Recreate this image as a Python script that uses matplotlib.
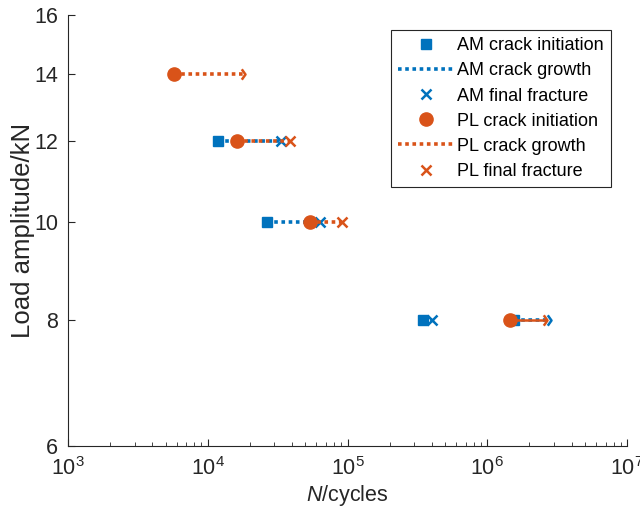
import matplotlib
matplotlib.use("Agg")
import matplotlib.pyplot as plt
from matplotlib.path import Path
from matplotlib.ticker import FixedLocator, NullLocator, FixedFormatter, LogLocator

plt.rcParams['font.family'] = ['Liberation Sans', 'DejaVu Sans']
plt.rcParams['mathtext.fontset'] = 'custom'
plt.rcParams['mathtext.rm'] = 'Liberation Sans'
plt.rcParams['mathtext.it'] = 'Liberation Sans:italic'

BLUE = '#0072BD'
ORANGE = '#D95319'

# AM specimens
am_load = [12, 10, 8, 8]
am_init = [1.18e4, 2.65e4, 3.47e5, 1.55e6]
am_final = [3.34e4, 6.35e4, 4.03e5, 2.86e6]
am_runout = [False, False, False, True]

# PL specimens
pl_load = [14, 12, 10, 8]
pl_init = [5.7e3, 1.62e4, 5.4e4, 1.46e6]
pl_final = [1.85e4, 3.88e4, 9.1e4, 2.68e6]
pl_runout = [True, False, False, True]
pl_solid = [False, False, False, True]

y_ticks = [6, 8, 10, 12, 14, 16]
x_ticks = [1e3, 1e4, 1e5, 1e6, 1e7]
x_ticklabels = [r'$10^{3}$', r'$10^{4}$', r'$10^{5}$', r'$10^{6}$', r'$10^{7}$']

chevron = Path([(-1, 1.4), (0, 0), (-1, -1.4)], [Path.MOVETO, Path.LINETO, Path.LINETO])

fig = plt.figure(figsize=(6.4, 5.16), dpi=100)
ax = fig.add_axes([0.106, 0.1357, 0.874, 0.8353])

lw = 2.6

def draw(loads, inits, finals, runouts, color, marker, ms, solid=None, zo=2):
    for i, (y, a, b, r) in enumerate(zip(loads, inits, finals, runouts)):
        is_solid = solid[i] if solid else False
        if is_solid:
            ax.plot([a, b], [y, y], color=color, lw=1.8, solid_capstyle='butt', zorder=zo)
        else:
            ax.plot([a, b], [y, y], color=color, lw=lw, dashes=(1, 1),
                    dash_capstyle='butt', zorder=zo)
        ax.plot([a], [y], marker=marker, color=color, ms=ms, ls='none', zorder=zo + 1)
        if r:
            ax.plot([b], [y], marker=chevron, color=color, ms=7.5, mew=1.8,
                    fillstyle='none', ls='none', zorder=zo + 1)
        else:
            ax.plot([b], [y], marker='x', color=color, ms=7.5, mew=1.8, ls='none', zorder=zo + 1)

draw(am_load, am_init, am_final, am_runout, BLUE, 's', 7.5, zo=2)
draw(pl_load, pl_init, pl_final, pl_runout, ORANGE, 'o', 9.5, solid=pl_solid, zo=4)

# legend proxies
h = []
h.append(ax.plot([], [], 's', color=BLUE, ms=7.5, label='AM crack initiation')[0])
h.append(ax.plot([], [], color=BLUE, lw=lw, dashes=(1, 1), dash_capstyle='butt', label='AM crack growth')[0])
h.append(ax.plot([], [], 'x', color=BLUE, ms=7.5, mew=1.8, label='AM final fracture')[0])
h.append(ax.plot([], [], 'o', color=ORANGE, ms=9.5, label='PL crack initiation')[0])
h.append(ax.plot([], [], color=ORANGE, lw=lw, dashes=(1, 1), dash_capstyle='butt', label='PL crack growth')[0])
h.append(ax.plot([], [], 'x', color=ORANGE, ms=7.5, mew=1.8, label='PL final fracture')[0])
leg = ax.legend(handles=h, loc='upper right', bbox_to_anchor=(0.971, 0.965),
                borderaxespad=0, fontsize=13, handlelength=3.0, handletextpad=0.25,
                labelspacing=0.45, borderpad=0.4, fancybox=False,
                edgecolor='#262626', framealpha=1)
leg.get_frame().set_linewidth(0.8)

ax.set_xscale('log')
ax.set_yscale('log')
ax.set_xlim(1e3, 1e7)
ax.set_ylim(6, 16)

ax.xaxis.set_major_locator(FixedLocator(x_ticks))
ax.xaxis.set_major_formatter(FixedFormatter(x_ticklabels))
ax.xaxis.set_minor_locator(LogLocator(base=10, subs=range(2, 10), numticks=20))
ax.yaxis.set_major_locator(FixedLocator(y_ticks))
ax.yaxis.set_major_formatter(FixedFormatter([str(v) for v in y_ticks]))
ax.yaxis.set_minor_locator(NullLocator())

for s in ['top', 'right']:
    ax.spines[s].set_visible(False)
for s in ['left', 'bottom']:
    ax.spines[s].set_color('#262626')
    ax.spines[s].set_linewidth(0.8)

ax.tick_params(which='major', direction='in', length=5, width=0.8, colors='#262626',
               labelsize=15.5, labelcolor='#262626')
ax.tick_params(which='minor', direction='in', length=3, width=0.6, colors='#262626')
ax.tick_params(axis='x', which='major', pad=8)
ax.tick_params(axis='y', which='major', pad=7)

ax.set_xlabel(r'$N$/cycles', fontsize=15.5, color='#262626', labelpad=2)
ax.set_ylabel('Load amplitude/kN', fontsize=18.5, color='#262626')
ax.yaxis.set_label_coords(-0.058, 0.5)

fig.savefig('out.png', dpi=100)
